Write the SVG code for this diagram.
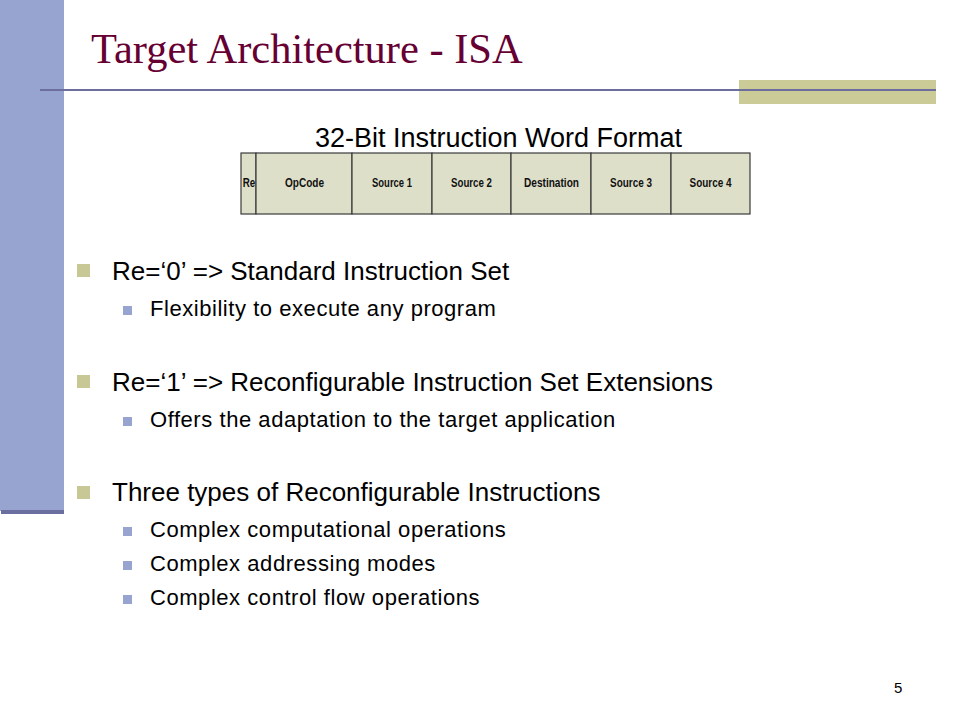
<svg xmlns="http://www.w3.org/2000/svg" width="960" height="720" viewBox="0 0 960 720">
<style>
.t{font-family:"Liberation Sans",Arial,sans-serif;fill:#000}
.l1{font-size:26px}
.l2{font-size:22px;letter-spacing:0.55px}
.cell{fill:#DDDFC8;stroke:#3a3a3a;stroke-width:1.2}
.lab{font-family:"Liberation Sans Narrow","Arial Narrow","Liberation Sans",Arial,sans-serif;font-size:13.5px;font-weight:bold;fill:#111;text-anchor:middle}
.b1{fill:#C8C896}
.b2{fill:#96A4CF}
</style>
<rect width="960" height="720" fill="#fff"/>
<g id="sidebar">
<rect x="0" y="0" width="64" height="511" fill="#96A4CF"/>
<rect x="1" y="510" width="63" height="4" fill="#6B6FA0"/>
</g>
<g id="header">
<rect x="739" y="80" width="197" height="24" fill="#CBCB97"/>
<line x1="40" y1="90" x2="936" y2="90" stroke="#6E6E9E" stroke-width="2"/>
<text x="91" y="63" font-family="'Liberation Serif','Times New Roman',serif" font-size="42.5" fill="#660033">Target Architecture - ISA</text>
</g>
<g id="format">
<text class="t" x="315" y="147" font-size="27">32-Bit Instruction Word Format</text>
<g id="cells">
<rect class="cell" x="241" y="153" width="15" height="61"/>
<rect class="cell" x="256" y="153" width="96" height="61"/>
<rect class="cell" x="352" y="153" width="80" height="61"/>
<rect class="cell" x="432" y="153" width="79" height="61"/>
<rect class="cell" x="511" y="153" width="80" height="61"/>
<rect class="cell" x="591" y="153" width="80" height="61"/>
<rect class="cell" x="671" y="153" width="79" height="61"/>
<text class="lab" x="249" y="187" textLength="12.5" lengthAdjust="spacingAndGlyphs">Re</text>
<text class="lab" x="304.5" y="187" textLength="39" lengthAdjust="spacingAndGlyphs">OpCode</text>
<text class="lab" x="392" y="187" textLength="40" lengthAdjust="spacingAndGlyphs">Source 1</text>
<text class="lab" x="471.5" y="187" textLength="41" lengthAdjust="spacingAndGlyphs">Source 2</text>
<text class="lab" x="551.5" y="187" textLength="55" lengthAdjust="spacingAndGlyphs">Destination</text>
<text class="lab" x="631" y="187" textLength="42" lengthAdjust="spacingAndGlyphs">Source 3</text>
<text class="lab" x="710.5" y="187" textLength="42" lengthAdjust="spacingAndGlyphs">Source 4</text>
</g>
</g>
<g id="bullets">
<rect class="b1" x="77" y="264" width="13" height="13"/>
<text class="t l1" x="112" y="280">Re=‘0’ =&gt; Standard Instruction Set</text>
<rect class="b2" x="123" y="306" width="9" height="9"/>
<text class="t l2" x="150" y="316">Flexibility to execute any program</text>
<rect class="b1" x="77" y="375" width="13" height="13"/>
<text class="t l1" x="112" y="391">Re=‘1’ =&gt; Reconfigurable Instruction Set Extensions</text>
<rect class="b2" x="123" y="417" width="9" height="9"/>
<text class="t l2" x="150" y="427">Offers the adaptation to the target application</text>
<rect class="b1" x="77" y="486" width="13" height="13"/>
<text class="t l1" x="112" y="501">Three types of Reconfigurable Instructions</text>
<rect class="b2" x="123" y="527" width="9" height="9"/>
<text class="t l2" x="150" y="537">Complex computational operations</text>
<rect class="b2" x="123" y="561" width="9" height="9"/>
<text class="t l2" x="150" y="571">Complex addressing modes</text>
<rect class="b2" x="123" y="595" width="9" height="9"/>
<text class="t l2" x="150" y="605">Complex control flow operations</text>
</g>
<text class="t" x="894" y="693" font-size="15" fill="#333">5</text>
</svg>
